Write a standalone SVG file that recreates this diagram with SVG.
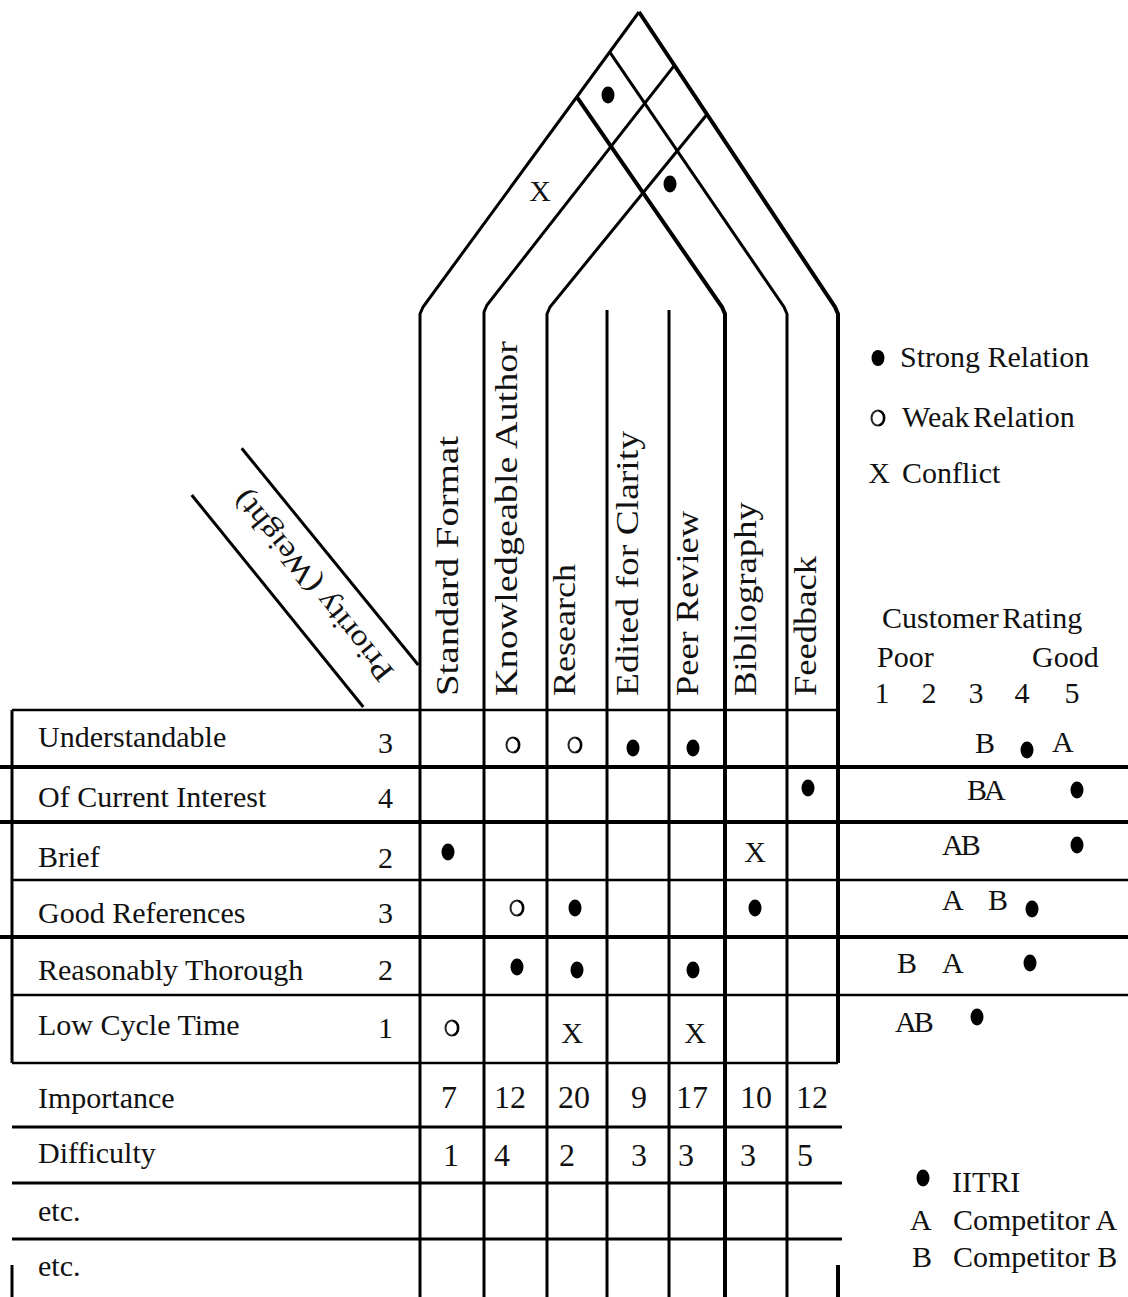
<svg xmlns="http://www.w3.org/2000/svg" width="1128" height="1297" viewBox="0 0 1128 1297">
  <style>
    .t { font-family: "Liberation Serif", "Times New Roman", serif; font-size: 30px; fill: #111; }
    .c { text-anchor: middle; }
    .num { font-size: 32px; }
    .hd { font-size: 31px; }
    .ln { stroke: #000; fill: none; stroke-width: 3; stroke-linecap: butt; }
    .thin { stroke-width: 2.5; }
    .thick { stroke-width: 4; }
    .dot { fill: #000; }
    .ring { fill: none; stroke: #222; stroke-width: 2; }
    .ring-shade { fill: none; stroke: #000; stroke-width: 2.2; }
  </style>
  <defs>
    <ellipse id="strong" rx="6.5" ry="8.5" class="dot"/>
    <!-- weak relation mark: open ring, heavier on its right side -->
    <g id="weak">
      <ellipse rx="6.5" ry="7.5" class="ring"/>
      <path d="M1,-7.3 A6.8,7.6 0 0 1 1,7.3" class="ring-shade"/>
    </g>
  </defs>

  <rect width="1128" height="1297" fill="#fff"/>

  <!-- Roof: correlation matrix between the technical requirements -->
  <g id="roof">
    <polyline class="ln" points="420,1297 420,314 423,307 639,12"/>
    <polyline class="ln thick" points="838,1063 838,314 835,307 639,12"/>
    <polyline class="ln" points="484,1297 484,312 487,305 674.8,64.8"/>
    <polyline class="ln" points="547,1297 547,314 550,307 707.5,113.7"/>
    <polyline class="ln thick" points="725,1297 725,314 722,307 576.6,96.6"/>
    <polyline class="ln" points="787,1297 787,314 784,307 609.6,51.9"/>
    <ellipse cx="608" cy="95" rx="6.5" ry="8.5" class="dot"/>
    <ellipse cx="670" cy="184" rx="6.5" ry="8.5" class="dot"/>
    <text class="t c" x="540" y="201" font-size="32">X</text>
  </g>

  <!-- Matrix grid -->
  <g id="grid-lines">
    <line class="ln" x1="607" y1="310" x2="607" y2="1297"/>
    <line class="ln" x1="669" y1="310" x2="669" y2="1297"/>
    <line class="ln" x1="12" y1="710" x2="12" y2="1063"/>
    <line class="ln" x1="12" y1="1265" x2="12" y2="1297"/>
    <line class="ln thick" x1="838" y1="1265" x2="838" y2="1297"/>

    <line class="ln thin" x1="12" y1="710" x2="838" y2="710"/>
    <line class="ln thick" x1="0" y1="767" x2="1128" y2="767"/>
    <line class="ln thick" x1="0" y1="822" x2="1128" y2="822"/>
    <line class="ln thin" x1="12" y1="880" x2="1128" y2="880"/>
    <line class="ln thick" x1="0" y1="937" x2="1128" y2="937"/>
    <line class="ln thin" x1="12" y1="995" x2="1128" y2="995"/>
    <line class="ln thin" x1="12" y1="1063" x2="838" y2="1063"/>
    <line class="ln" x1="12" y1="1127" x2="842" y2="1127"/>
    <line class="ln" x1="12" y1="1183" x2="842" y2="1183"/>
    <line class="ln" x1="12" y1="1239" x2="842" y2="1239"/>
  </g>

  <!-- Priority (weight) heading -->
  <g id="priority-heading">
    <line class="ln" stroke-width="3.5" x1="191.7" y1="495" x2="363.3" y2="707"/>
    <line class="ln" stroke-width="2" x1="241.7" y1="448.3" x2="418.3" y2="665"/>
    <text class="t" transform="translate(395,671.6) rotate(-129)" textLength="236" lengthAdjust="spacingAndGlyphs">Priority (Weight)</text>
  </g>

  <!-- Technical requirement headings -->
  <g id="header-labels" class="t hd">
    <text transform="translate(458,696) rotate(-90)" textLength="260" lengthAdjust="spacingAndGlyphs">Standard Format</text>
    <text transform="translate(517,696) rotate(-90)" textLength="355" lengthAdjust="spacingAndGlyphs">Knowledgeable Author</text>
    <text transform="translate(575,696) rotate(-90)" textLength="132" lengthAdjust="spacingAndGlyphs">Research</text>
    <text transform="translate(638,696) rotate(-90)" textLength="265" lengthAdjust="spacingAndGlyphs">Edited for Clarity</text>
    <text transform="translate(698,696) rotate(-90)" textLength="185" lengthAdjust="spacingAndGlyphs">Peer Review</text>
    <text transform="translate(756,696) rotate(-90)" textLength="194" lengthAdjust="spacingAndGlyphs">Bibliography</text>
    <text transform="translate(816,696) rotate(-90)" textLength="140" lengthAdjust="spacingAndGlyphs">Feedback</text>
  </g>

  <!-- Customer requirements and weights -->
  <g id="row-labels" class="t">
    <text x="38" y="747">Understandable</text>
    <text x="38" y="807">Of Current Interest</text>
    <text x="38" y="867">Brief</text>
    <text x="38" y="923">Good References</text>
    <text x="38" y="980">Reasonably Thorough</text>
    <text x="38" y="1035">Low Cycle Time</text>
    <text x="38" y="1108">Importance</text>
    <text x="38" y="1163">Difficulty</text>
    <text x="38" y="1221">etc.</text>
    <text x="38" y="1276">etc.</text>
    <g class="c">
      <text x="385.5" y="753">3</text>
      <text x="385.5" y="808">4</text>
      <text x="385.5" y="868">2</text>
      <text x="385.5" y="923">3</text>
      <text x="385.5" y="980">2</text>
      <text x="385.5" y="1038">1</text>
    </g>
  </g>

  <!-- Relationship matrix entries -->
  <g id="relations">
    <use href="#weak" x="513" y="745"/>
    <use href="#weak" x="575" y="745"/>
    <use href="#strong" x="633" y="748"/>
    <use href="#strong" x="693" y="748"/>
    <use href="#strong" x="808" y="788"/>
    <use href="#strong" x="448" y="852"/>
    <text class="t c" x="755" y="862">X</text>
    <use href="#weak" x="517" y="908"/>
    <use href="#strong" x="575" y="908"/>
    <use href="#strong" x="755" y="908"/>
    <use href="#strong" x="517" y="967"/>
    <use href="#strong" x="577" y="970"/>
    <use href="#strong" x="693" y="970"/>
    <use href="#weak" x="452" y="1028"/>
    <text class="t c" x="572" y="1043">X</text>
    <text class="t c" x="695" y="1043">X</text>
  </g>

  <!-- Importance and difficulty scores -->
  <g id="importance" class="t c num">
    <text x="449" y="1108">7</text>
    <text x="510" y="1108">12</text>
    <text x="574" y="1108">20</text>
    <text x="639" y="1108">9</text>
    <text x="692" y="1108">17</text>
    <text x="756" y="1108">10</text>
    <text x="812" y="1108">12</text>
    <text x="451" y="1166">1</text>
    <text x="502" y="1166">4</text>
    <text x="567" y="1166">2</text>
    <text x="639" y="1166">3</text>
    <text x="686" y="1166">3</text>
    <text x="748" y="1166">3</text>
    <text x="805" y="1166">5</text>
  </g>

  <!-- Symbol key -->
  <g id="legend" class="t">
    <ellipse cx="878" cy="358" rx="6.5" ry="8" class="dot"/>
    <text x="900" y="367">Strong Relation</text>
    <use href="#weak" x="878" y="418"/>
    <text x="902" y="427" word-spacing="-4">Weak Relation</text>
    <text class="c" x="879" y="483">X</text>
    <text x="902" y="483">Conflict</text>
  </g>

  <!-- Competitive assessment -->
  <g id="customer-rating" class="t">
    <text x="882" y="628" word-spacing="-4">Customer Rating</text>
    <text x="877" y="667">Poor</text>
    <text x="1032" y="667">Good</text>
    <g class="c">
      <text x="882" y="703">1</text>
      <text x="929" y="703">2</text>
      <text x="976" y="703">3</text>
      <text x="1022" y="703">4</text>
      <text x="1072" y="703">5</text>
    </g>
    <text x="975" y="753">B</text>
    <use href="#strong" x="1027" y="750"/>
    <text x="1052" y="752">A</text>
    <text x="967" y="800" letter-spacing="-3">BA</text>
    <use href="#strong" x="1077" y="790"/>
    <text x="942" y="855" letter-spacing="-3">AB</text>
    <use href="#strong" x="1077" y="845"/>
    <text x="942" y="910">A</text>
    <text x="988" y="910">B</text>
    <use href="#strong" x="1032" y="909"/>
    <text x="897" y="973">B</text>
    <text x="942" y="973">A</text>
    <use href="#strong" x="1030" y="963"/>
    <text x="895" y="1032" letter-spacing="-3">AB</text>
    <use href="#strong" x="977" y="1017"/>
  </g>

  <!-- Rating key -->
  <g id="rating-key" class="t">
    <ellipse cx="923" cy="1178" rx="6.5" ry="8.5" class="dot"/>
    <text x="952" y="1192">IITRI</text>
    <text x="910" y="1230">A</text>
    <text x="953" y="1230">Competitor A</text>
    <text x="912" y="1267">B</text>
    <text x="953" y="1267">Competitor B</text>
  </g>
</svg>
